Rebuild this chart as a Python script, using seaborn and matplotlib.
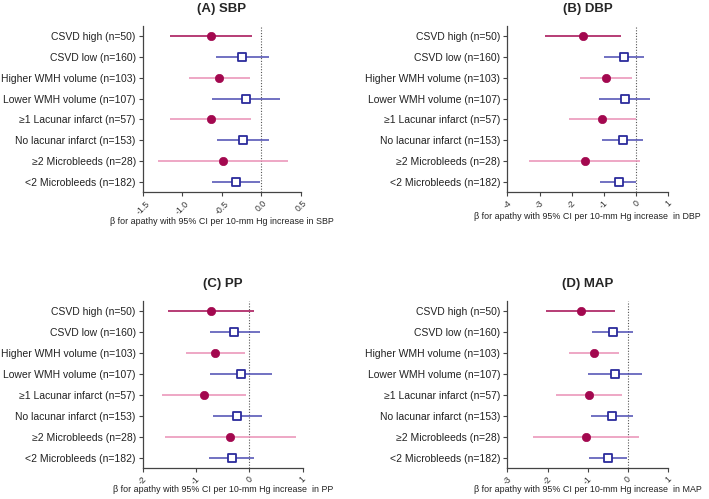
import numpy as np
import pandas as pd
import matplotlib
matplotlib.use("Agg")
import matplotlib.pyplot as plt
import seaborn as sns

categories = ["CSVD high (n=50)", "CSVD low (n=160)", "Higher WMH volume (n=103)",
              "Lower WMH volume (n=107)", "\u22651 Lacunar infarct (n=57)",
              "No lacunar infarct (n=153)", "\u22652 Microbleeds (n=28)",
              "<2 Microbleeds (n=182)"]
group = ["high", "low", "high", "low", "high", "low", "high", "low"]

sbp_beta = [-0.64, -0.24, -0.53, -0.19, -0.64, -0.23, -0.49, -0.32]
sbp_lo = [-1.16, -0.57, -0.91, -0.62, -1.15, -0.56, -1.31, -0.62]
sbp_hi = [-0.12, 0.09, -0.15, 0.24, -0.13, 0.10, 0.33, -0.02]

dbp_beta = [-1.65, -0.38, -0.94, -0.36, -1.05, -0.42, -1.60, -0.54]
dbp_lo = [-2.83, -1.01, -1.73, -1.16, -2.09, -1.06, -3.34, -1.12]
dbp_hi = [-0.47, 0.24, -0.13, 0.42, 0.00, 0.20, 0.12, 0.00]

pp_beta = [-0.72, -0.28, -0.64, -0.16, -0.85, -0.23, -0.36, -0.33]
pp_lo = [-1.52, -0.73, -1.19, -0.74, -1.64, -0.69, -1.58, -0.75]
pp_hi = [0.08, 0.19, -0.09, 0.42, -0.07, 0.23, 0.87, 0.08]

map_beta = [-1.18, -0.38, -0.85, -0.32, -0.96, -0.39, -1.05, -0.51]
map_lo = [-2.03, -0.89, -1.47, -0.99, -1.78, -0.91, -2.36, -0.98]
map_hi = [-0.32, 0.13, -0.23, 0.35, -0.15, 0.13, 0.27, -0.02]

panels = [
    ("(A) SBP", "in SBP", sbp_beta, sbp_lo, sbp_hi, [-1.5, -1.0, -0.5, 0.0, 0.5], ["-1.5", "-1.0", "-0.5", "0.0", "0.5"]),
    ("(B) DBP", " in DBP", dbp_beta, dbp_lo, dbp_hi, [-4, -3, -2, -1, 0, 1], ["-4", "-3", "-2", "-1", "0", "1"]),
    ("(C) PP", " in PP", pp_beta, pp_lo, pp_hi, [-2, -1, 0, 1], ["-2", "-1", "0", "1"]),
    ("(D) MAP", " in MAP", map_beta, map_lo, map_hi, [-3, -2, -1, 0, 1], ["-3", "-2", "-1", "0", "1"]),
]

sns.set_style("ticks")
plt.rcParams["font.family"] = ["Liberation Sans", "DejaVu Sans"]

RED = "#A3084F"
PINK = "#E990B5"
BLUE = "#2B2B9C"
BLUE_LINE = "#4A4AB2"

fig = plt.figure(figsize=(7.09, 4.99), dpi=100)
W, H = 709, 499
boxes = [(142.7, 26, 301.0, 192), (507.3, 26, 668.3, 192),
         (142.7, 301, 302.7, 468), (507.3, 301, 668.3, 468)]
label_pads = [0.5, 0.5, -1.5, -1.5]

for k, ((title, unit, beta, lo, hi, ticks, ticklabels), (x0, y0, x1, y1)) in enumerate(zip(panels, boxes)):
    ax = fig.add_axes([x0 / W, 1 - y1 / H, (x1 - x0) / W, (y1 - y0) / H])
    df = pd.DataFrame({"cat": categories, "pos": np.arange(len(categories)),
                       "beta": beta, "lo": lo, "hi": hi, "group": group})
    for i, r in df.iterrows():
        if r["group"] == "high":
            lc = RED if i == 0 else PINK
        else:
            lc = BLUE_LINE
        ax.hlines(r["pos"], r["lo"], r["hi"], color=lc, lw=1.1, zorder=2)
    ax.axvline(0, color="#555555", lw=0.8, ls=(0, (1, 1.5)), zorder=1)
    hi_df = df[df["group"] == "high"]
    lo_df = df[df["group"] == "low"]
    sns.scatterplot(data=hi_df, x="beta", y="pos", ax=ax, marker="o", s=36,
                    color=RED, edgecolor=RED, linewidth=0.5, zorder=3, legend=False)
    sns.scatterplot(data=lo_df, x="beta", y="pos", ax=ax, marker="s", s=38,
                    facecolor="white", edgecolor=BLUE, linewidth=1.3, zorder=3, legend=False)
    ax.set_ylim(7.5, -0.5)
    ax.set_xlim(ticks[0], ticks[-1])
    ax.set_yticks(np.arange(len(categories)))
    ax.set_yticklabels(categories, fontsize=7.5, color="#222222")
    ax.set_xticks(ticks)
    ax.set_xticklabels(ticklabels, fontsize=6.3, rotation=45, ha="center", color="#333333")
    ax.set_xlabel("\u03b2 for apathy with 95% CI per 10-mm Hg increase " + unit.strip() if k == 0
                  else "\u03b2 for apathy with 95% CI per 10-mm Hg increase  " + unit.strip(),
                  fontsize=6.4, color="#222222", labelpad=label_pads[k])
    ax.set_ylabel("")
    ax.set_title(title, fontsize=9.5, fontweight="bold", pad=10)
    for s in ["top", "right"]:
        ax.spines[s].set_visible(False)
    for s in ["left", "bottom"]:
        ax.spines[s].set_color("#444444")
        ax.spines[s].set_linewidth(0.9)
    ax.tick_params(axis="both", length=3, width=0.8, color="#444444", pad=2)

fig.savefig("out.png", dpi=100, facecolor="white")
